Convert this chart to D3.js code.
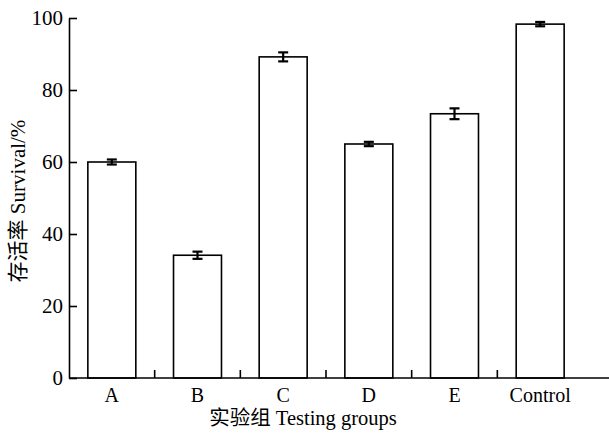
<!DOCTYPE html>
<html>
<head>
<meta charset="utf-8">
<script src="https://cdn.jsdelivr.net/npm/d3@7"></script>
<style>
  body { margin: 0; background: #fff; }
  text { font-family: "Liberation Serif", "Noto Sans CJK SC", serif; fill: #000; }
</style>
</head>
<body>
<svg width="609" height="434"></svg>
<script>
// data
var groups = ["A", "B", "C", "D", "E", "Control"];
var survival = [60.0, 34.1, 89.2, 65.0, 73.4, 98.3];
var errors = [0.7, 1.0, 1.25, 0.6, 1.5, 0.6];
var yTicks = [0, 20, 40, 60, 80, 100];

var svg = d3.select("svg");
var plotLeft = 69, plotRight = 583, plotTop = 18, plotBottom = 378;

var x = d3.scaleBand().domain(groups).range([plotLeft, plotRight]).paddingInner(0.44).paddingOuter(0.22);
var y = d3.scaleLinear().domain([0, 100]).range([plotBottom, plotTop]);

// bars
svg.append("g").selectAll("rect")
  .data(groups)
  .enter().append("rect")
  .attr("x", function(d) { return x(d); })
  .attr("y", function(d, i) { return y(survival[i]); })
  .attr("width", x.bandwidth())
  .attr("height", function(d, i) { return plotBottom - y(survival[i]); })
  .attr("fill", "#fff")
  .attr("stroke", "#000")
  .attr("stroke-width", 1.6);

// error bars
var err = svg.append("g").attr("stroke", "#000").attr("stroke-width", 2.2);
groups.forEach(function(d, i) {
  var cx = x(d) + x.bandwidth() / 2;
  var hi = y(survival[i] + errors[i]), lo = y(survival[i] - errors[i]);
  err.append("line").attr("x1", cx).attr("x2", cx).attr("y1", hi).attr("y2", lo);
  err.append("line").attr("x1", cx - 5).attr("x2", cx + 5).attr("y1", hi).attr("y2", hi);
  err.append("line").attr("x1", cx - 5).attr("x2", cx + 5).attr("y1", lo).attr("y2", lo);
});

// y axis, ticks pointing inward
var yAxis = svg.append("g")
  .attr("transform", "translate(" + plotLeft + ",0)")
  .call(d3.axisRight(y).tickValues(yTicks).tickSize(8).tickSizeOuter(0));
yAxis.select(".domain").attr("stroke-width", 1.6);
yAxis.selectAll(".tick line").attr("stroke-width", 1.6);
yAxis.selectAll(".tick text")
  .attr("x", -6)
  .attr("text-anchor", "end")
  .attr("font-size", 21)
  .style("font-family", "Liberation Serif");

// x axis line (runs out to the edge) with ticks between groups
svg.append("line")
  .attr("x1", plotLeft).attr("x2", 609)
  .attr("y1", plotBottom).attr("y2", plotBottom)
  .attr("stroke", "#000").attr("stroke-width", 1.6);

var step = x.step();
svg.append("g").selectAll("line")
  .data(groups.slice(1))
  .enter().append("line")
  .attr("x1", function(d) { return x(d) - step * 0.22; })
  .attr("x2", function(d) { return x(d) - step * 0.22; })
  .attr("y1", plotBottom).attr("y2", plotBottom - 8)
  .attr("stroke", "#000").attr("stroke-width", 1.6);

svg.append("g").selectAll("text")
  .data(groups)
  .enter().append("text")
  .attr("x", function(d) { return x(d) + x.bandwidth() / 2; })
  .attr("y", 402)
  .attr("text-anchor", "middle")
  .attr("font-size", 20)
  .text(function(d) { return d; });

// axis titles
svg.append("text")
  .attr("x", 303).attr("y", 425)
  .attr("text-anchor", "middle")
  .attr("font-size", 20.5)
  .text("实验组 Testing groups");

svg.append("text")
  .attr("transform", "translate(25,201) rotate(-90)")
  .attr("text-anchor", "middle")
  .attr("font-size", 21)
  .text("存活率 Survival/%");
</script>
</body>
</html>
